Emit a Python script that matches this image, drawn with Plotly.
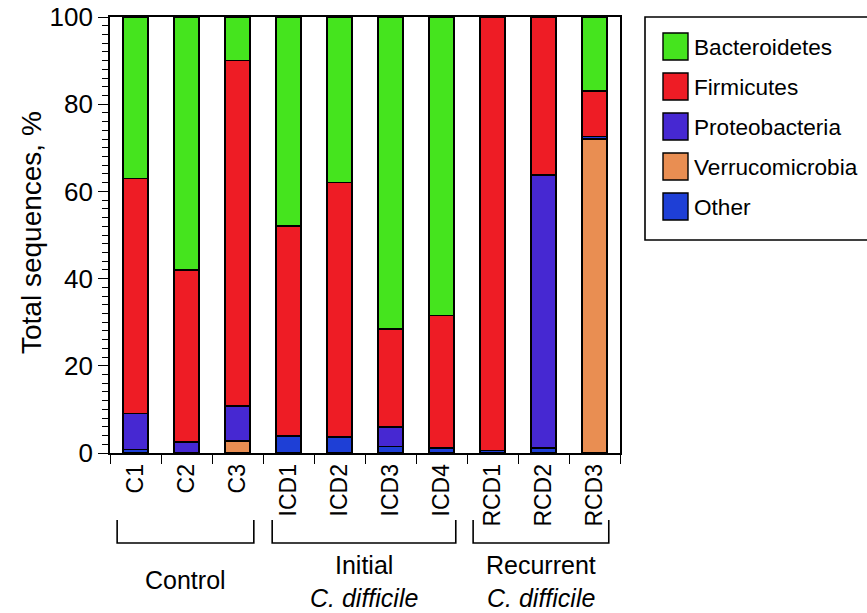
import plotly.graph_objects as go

samples = ["C1", "C2", "C3", "ICD1", "ICD2", "ICD3", "ICD4", "RCD1", "RCD2", "RCD3"]
verrucomicrobia = [0, 0, 2.8, 0, 0, 0, 0, 0, 0, 72.0]
other = [0.8, 0, 0, 3.9, 3.7, 1.5, 1.2, 0.6, 1.2, 0.6]
proteobacteria = [8.3, 2.5, 8.0, 0, 0, 4.4, 0, 0, 62.6, 0]
firmicutes = [53.9, 39.5, 79.2, 48.1, 58.3, 22.6, 30.3, 99.4, 36.2, 10.4]
bacteroidetes = [37.0, 58.0, 10.0, 48.0, 38.0, 71.5, 68.5, 0, 0, 17.0]

series = [
    ("Verrucomicrobia", verrucomicrobia, "#e98e52"),
    ("Other", other, "#1e3fd6"),
    ("Proteobacteria", proteobacteria, "#4628d2"),
    ("Firmicutes", firmicutes, "#ee1c25"),
    ("Bacteroidetes", bacteroidetes, "#45e41e"),
]
legend_order = ["Bacteroidetes", "Firmicutes", "Proteobacteria", "Verrucomicrobia", "Other"]

groups = [("Control", None, -0.36, 2.32),
          ("Initial", "C. difficile", 2.68, 6.28),
          ("Recurrent", "C. difficile", 6.62, 9.28)]

y_title = "Total sequences, %"

FONT = "Arial, Liberation Sans, Helvetica, sans-serif"
W, H = 867, 613
PX0, PX1, PY0, PY1 = 110, 620, 17, 453
L, T = PX0, PY0
R, B = W - PX1, H - PY1
PW, PH = PX1 - PX0, PY1 - PY0

def px(x):
    return (x - PX0) / PW

def py(y):
    return (PY1 - y) / PH

fig = go.Figure()
for name, vals, col in series:
    fig.add_trace(go.Bar(
        x=samples, y=[v if v > 0 else None for v in vals], name=name,
        marker=dict(color=col, line=dict(color="black", width=1.6)),
        width=0.5, showlegend=False))

shapes = []
annotations = []
for title, sub, x0, x1 in groups:
    shapes.append(dict(type="path", xref="x", yref="paper",
                       path=f"M {x0},{py(520)} L {x0},{py(543)} L {x1},{py(543)} L {x1},{py(520)}",
                       line=dict(color="black", width=1.6)))
    xc = (x0 + x1) / 2
    lines = [(title, 580)] if sub is None else [(title, 565), (f"<i>{sub}</i>", 598)]
    for txt, yy in lines:
        annotations.append(dict(x=xc, y=py(yy), xref="x", yref="paper", text=txt,
                                xanchor="center", yanchor="middle", showarrow=False,
                                font=dict(size=25, color="black", family=FONT)))

# y-axis title
annotations.append(dict(x=px(31), y=py(233), xref="paper", yref="paper", text=y_title,
                        textangle=-90, xanchor="center", yanchor="middle", showarrow=False,
                        font=dict(size=28, color="black", family=FONT)))

# legend box (open on the right, running off the page)
bx0, bx1, by0, by1 = px(645), px(900), py(17), py(240)
shapes.append(dict(type="path", xref="paper", yref="paper",
                   path=f"M {bx1},{by0} L {bx0},{by0} L {bx0},{by1} L {bx1},{by1}",
                   line=dict(color="black", width=1.6)))
colors = {n: c for n, _, c in series}
for i, name in enumerate(legend_order):
    top = 33 + 40 * i
    shapes.append(dict(type="rect", xref="paper", yref="paper",
                       x0=px(663), x1=px(688), y0=py(top + 27), y1=py(top),
                       line=dict(color="black", width=1.4), fillcolor=colors[name]))
    annotations.append(dict(x=px(692), y=py(top + 14), xref="paper", yref="paper",
                            text=name, showarrow=False, xanchor="left", yanchor="middle",
                            font=dict(size=22.6, color="black", family=FONT)))

fig.update_layout(
    width=W, height=H, margin=dict(l=L, r=R, t=T, b=B, autoexpand=False),
    paper_bgcolor="white", plot_bgcolor="white",
    barmode="stack", bargap=0.5,
    font=dict(family=FONT, color="black"),
    shapes=shapes, annotations=annotations,
    xaxis=dict(type="category", range=[-0.5, 9.5], tickson="boundaries",
               ticks="outside", ticklen=9, tickwidth=1.4, tickcolor="black",
               tickangle=-90, tickfont=dict(size=23, family=FONT, color="black"),
               showline=True, linecolor="black", linewidth=1.6, mirror=True,
               showgrid=False, zeroline=False, automargin=False),
    yaxis=dict(range=[0, 100], tickvals=[0, 20, 40, 60, 80, 100],
               ticks="outside", ticklen=10, tickwidth=1.4, tickcolor="black",
               minor=dict(dtick=2, ticks="outside", ticklen=6, tickwidth=1, tickcolor="black"),
               tickfont=dict(size=26, family=FONT, color="black"),
               ticklabeloverflow="allow",
               showline=True, linecolor="black", linewidth=1.6, mirror=True,
               showgrid=False, zeroline=False, automargin=False),
)

fig.write_html("out.html", config={"displayModeBar": False},
               post_script="document.body.style.margin='0';document.body.style.overflow='hidden';")
